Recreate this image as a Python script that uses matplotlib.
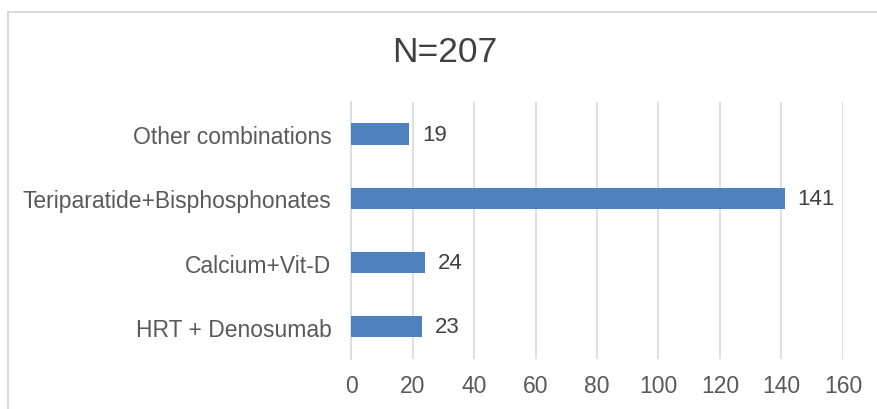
import matplotlib.pyplot as plt
from matplotlib.patches import Rectangle

plt.rcParams['font.family'] = ['Liberation Sans', 'DejaVu Sans']

# data, bottom to top
categories = ['HRT + Denosumab', 'Calcium+Vit-D', 'Teriparatide+Bisphosphonates', 'Other combinations']
counts = [23, 24, 141, 19]
x_ticks = [0, 20, 40, 60, 80, 100, 120, 140, 160]
title = 'N=207'

text_color = '#595959'
grid_color = '#d9d9d9'
bar_color = '#4f81bd'

fig = plt.figure(figsize=(8.78, 4.10), dpi=100)
ax = fig.add_axes([0.3998, 0.122, 0.5603, 0.627])

ypos = list(range(len(categories)))
ax.barh(ypos, counts, height=0.33, color=bar_color, zorder=3)

for y, v in zip(ypos, counts):
    ax.annotate(str(v), (v, y), xytext=(9.5, 0), textcoords='offset points',
                va='center', ha='left', fontsize=16, color='#404040')

ax.set_xlim(0, 160)
ax.set_ylim(-0.5, len(categories) - 0.5)
ax.set_xticks(x_ticks)
ax.set_yticks(ypos)
ax.set_yticklabels(categories)
ax.tick_params(axis='both', length=0, labelsize=16.5, colors=text_color)
ax.tick_params(axis='x', pad=10.5)
ax.tick_params(axis='y', pad=14)
ax.xaxis.grid(True, color=grid_color, linewidth=1.2, zorder=0)
ax.set_axisbelow(True)
for side in ['top', 'right', 'bottom']:
    ax.spines[side].set_visible(False)
ax.spines['left'].set_color(grid_color)
ax.spines['left'].set_linewidth(1.2)

fig.text(0.507, 0.873, title, ha='center', va='center', fontsize=25.5, color='#404040')

# chart frame, cut off at right and bottom like the reference
frame = Rectangle((8 / 878, -0.05), 1.1, 1 - 13 / 410 + 0.05, transform=fig.transFigure,
                  fill=False, edgecolor='#d9d9d9', linewidth=1.5, clip_on=False)
fig.patches.append(frame)

fig.savefig('out.png', dpi=100, facecolor='white')
